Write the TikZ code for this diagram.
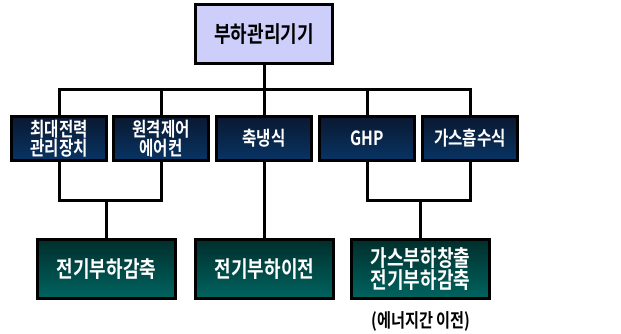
\documentclass[tikz,border=0pt]{standalone}
\usepackage{fontspec}
\newfontfamily\krb{Noto Sans CJK KR Bold}[FakeStretch=0.8]
\definecolor{lav}{RGB}{206,206,250}
\definecolor{navyT}{RGB}{10,24,48}
\definecolor{navyB}{RGB}{8,52,100}
\definecolor{tealT}{RGB}{0,46,44}
\definecolor{tealB}{RGB}{0,100,96}
\tikzset{
  topbox/.style={draw=black, line width=2.6pt, fill=lav, minimum width=137pt, minimum height=59pt, inner sep=0pt, font=\krb\fontsize{22.5}{24}\selectfont, text=black},
  midbox/.style={draw=black, line width=2.6pt, top color=navyT, bottom color=navyB, minimum width=95pt, minimum height=44pt, inner sep=0pt, align=center, font=\krb\fontsize{19.5}{19.5}\selectfont, text=white},
  botbox/.style={draw=black, line width=2.6pt, top color=tealT, bottom color=tealB, minimum width=138pt, minimum height=59pt, inner sep=0pt, align=center, font=\krb\fontsize{22.5}{22}\selectfont, text=white},
  conn/.style={draw=black, line width=3pt},
  capt/.style={font=\krb\fontsize{19}{20}\selectfont, text=black, inner sep=0pt}
}
\begin{document}
\begin{tikzpicture}[x=1pt,y=-1pt]
\useasboundingbox (0,0) rectangle (621,334);
\node[topbox] (top) at (264,34) {부하관리기기};
\node[midbox] (m1) at (59,138.5) {최대전력\\관리장치};
\node[midbox] (m2) at (161,138.5) {원격제어\\에어컨};
\node[midbox] (m3) at (264,138.5) {축냉식};
\node[midbox] (m4) at (367,138.5) {GHP};
\node[midbox] (m5) at (470,138.5) {가스흡수식};
\node[botbox] (bA) at (106.5,269) {전기부하감축};
\node[botbox] (bB) at (264.5,269) {전기부하이전};
\node[botbox] (bC) at (420.5,269) {가스부하창출\\전기부하감축};
\node[capt] (cap) at (421,321) {(에너지간 이전)};
\coordinate (busL) at (59,90);
\coordinate (busR) at (470,90);
\coordinate (br) at (0,200);
\draw[conn] (top.south) -- (top.south |- busL);
\draw[conn, line cap=rect] (busL) -- (busR);
\foreach \i in {1,...,5} { \draw[conn] (m\i.north |- busL) -- (m\i.north); }
\draw[conn] (m1.south) -- (m1.south |- br) -- (m2.south |- br) -- (m2.south);
\draw[conn] (bA.north) -- (bA.north |- br);
\draw[conn] (m3.south) -- (m3.south |- bB.north);
\draw[conn] (m4.south) -- (m4.south |- br) -- (m5.south |- br) -- (m5.south);
\draw[conn] (bC.north) -- (bC.north |- br);
\end{tikzpicture}
\end{document}
